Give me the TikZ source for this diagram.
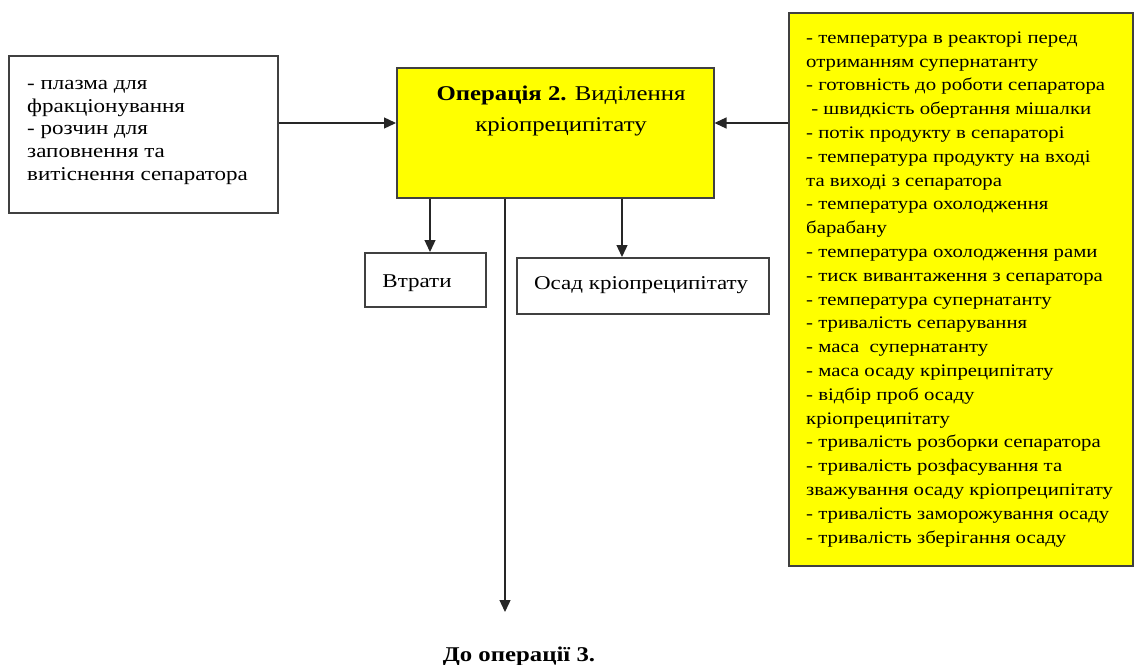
\documentclass[tikz,border=0pt]{standalone}
\usepackage{fontspec}
\setmainfont{Liberation Serif}[FakeStretch=1.18]
\usetikzlibrary{arrows.meta}
\definecolor{boxyellow}{RGB}{255,255,0}
\begin{document}
\begin{tikzpicture}[x=1pt,y=-1pt,
  frame/.style={draw=black!75, line width=1.5pt, inner sep=0pt, anchor=north west},
  hot/.style={frame, fill=boxyellow},
  txt/.style={inner sep=0pt, font=\fontsize{19.5}{22.8}\selectfont, align=left, anchor=base west},
  flow/.style={draw=black!85, line width=1.3pt, -{Triangle[width=11pt,length=12pt]}}]
\useasboundingbox (0,0) rectangle (1134,664);

% boxes
\node[frame, minimum width=269pt, minimum height=157pt] (inp) at (8,55) {};
\node[hot, minimum width=317pt, minimum height=130pt] (op) at (396,67) {};
\node[hot, minimum width=344pt, minimum height=553pt] (par) at (788,12) {};
\node[frame, minimum width=121pt, minimum height=54pt] (loss) at (364,252) {};
\node[frame, minimum width=252pt, minimum height=56pt] (sed) at (516,257) {};

% texts (anchored at the baseline of the last line)
\node[txt] (inptxt) at (27,180.5) {- плазма для\\фракціонування\\- розчин для\\заповнення та\\витіснення сепаратора};
\node[txt, font=\fontsize{21}{31}\selectfont, align=center, anchor=base] (optxt) at (561,131)
  {\textbf{Операція 2.} Виділення\\кріопреципітату};
\node[txt, font=\fontsize{17.6}{23.8}\selectfont] (partxt) at (806,543) {%
- температура в реакторі перед\\
отриманням супернатанту\\
- готовність до роботи сепаратора\\
\ - швидкість обертання мішалки\\
- потік продукту в сепараторі\\
- температура продукту на вході\\
та виході з сепаратора\\
- температура охолодження\\
барабану\\
- температура охолодження рами\\
- тиск вивантаження з сепаратора\\
- температура супернатанту\\
- тривалість сепарування\\
- маса\ \ супернатанту\\
- маса осаду кріпреципітату\\
- відбір проб осаду\\
кріопреципітату\\
- тривалість розборки сепаратора\\
- тривалість розфасування та\\
зважування осаду кріопреципітату\\
- тривалість заморожування осаду\\
- тривалість зберігання осаду};
\node[txt, anchor=base] (losstxt) at (417,287) {Втрати};
\node[txt, anchor=base] (sedtxt) at (641,289) {Осад кріопреципітату};
\node[txt, font=\bfseries\fontsize{21}{24}\selectfont, anchor=base] (next) at (519,661) {До операції 3.};

% connectors
\coordinate (n3) at (505,612);
\draw[flow] (inp.east |- 0,123) -- (op.west |- 0,123);
\draw[flow] (par.west |- 0,123) -- (op.east |- 0,123);
\draw[flow] (op.south -| 430,0) -- (loss.north -| 430,0);
\draw[flow] (op.south -| 622,0) -- (sed.north -| 622,0);
\draw[flow] (op.south -| n3) -- (n3);
\end{tikzpicture}
\end{document}
